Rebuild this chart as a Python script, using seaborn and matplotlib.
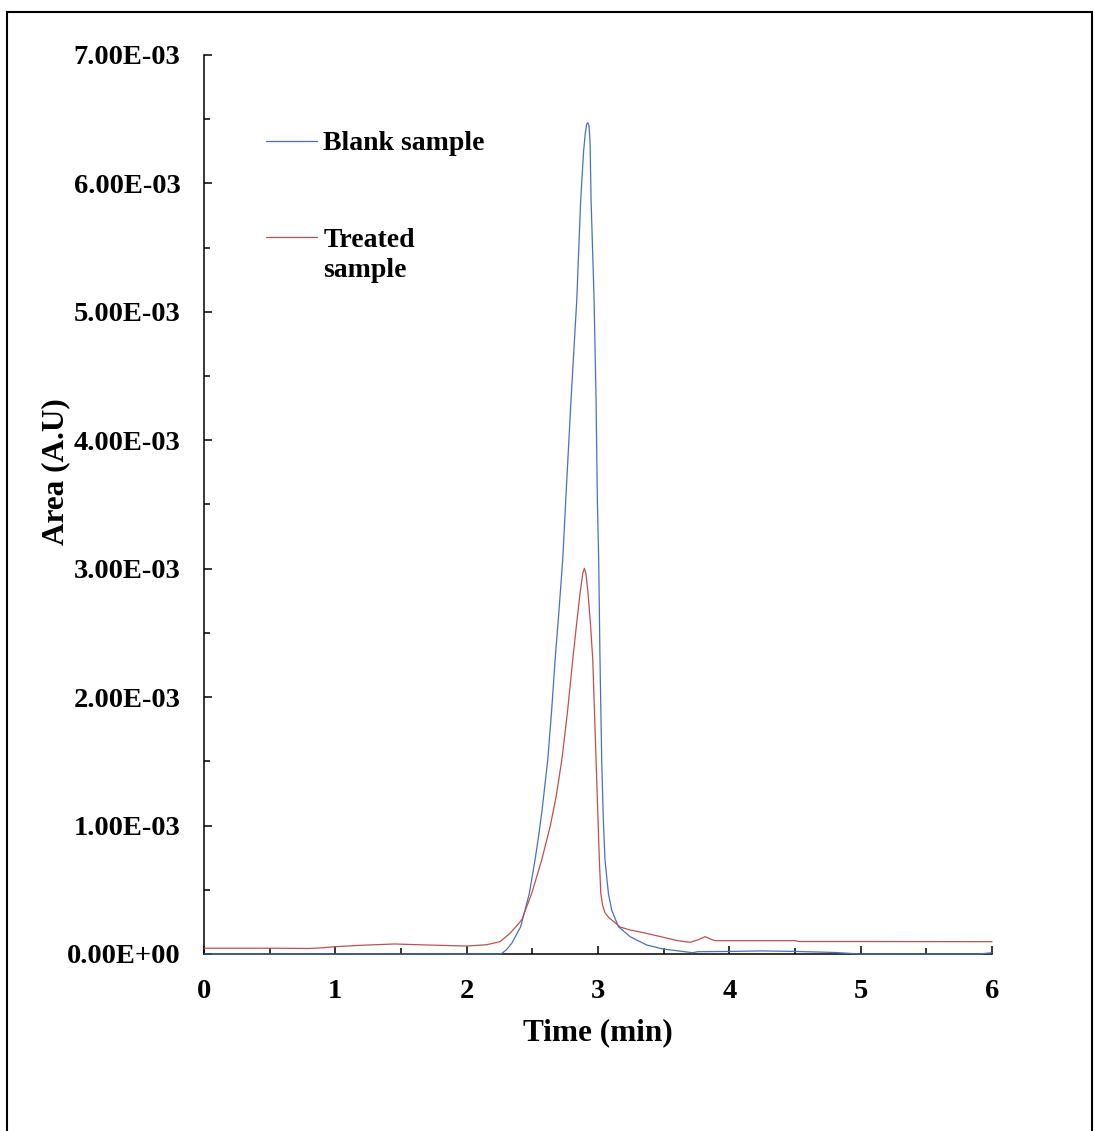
import matplotlib
matplotlib.use("Agg")
import matplotlib.pyplot as plt
import matplotlib.ticker as mticker
import numpy as np
import pandas as pd
import seaborn as sns

# retention time (min) and area (x1e-3 A.U)
blank_time = [
    0.0, 1.0, 2.0, 2.26, 2.30, 2.343, 2.411, 2.477, 2.520, 2.545, 2.574,
    2.617, 2.647, 2.673, 2.703, 2.731, 2.754, 2.794, 2.838, 2.868, 2.890,
    2.903, 2.913, 2.922, 2.931, 2.939, 2.947, 2.970, 2.985, 2.995, 3.005,
    3.015, 3.028, 3.040, 3.053, 3.079, 3.104, 3.155, 3.244, 3.371, 3.495,
    3.72, 3.76, 4.0, 4.25, 4.5, 4.8, 5.0, 5.9, 6.0,
]
blank_area = [
    0.0, 0.0, 0.0, 0.0, 0.03, 0.083, 0.213, 0.472, 0.732, 0.90, 1.121,
    1.51, 1.90, 2.289, 2.678, 3.068, 3.53, 4.31, 5.09, 5.87, 6.25,
    6.39, 6.46, 6.473, 6.45, 6.33, 5.87, 5.09, 4.31, 3.53, 3.068,
    2.289, 1.51, 1.05, 0.732, 0.472, 0.342, 0.213, 0.135, 0.07, 0.039,
    0.01, 0.018, 0.02, 0.024, 0.02, 0.012, 0.0, 0.0, 0.01,
]

treated_time = [
    0.0, 0.5, 0.8, 0.9, 1.0, 1.2, 1.45, 1.7, 2.0, 2.15, 2.254, 2.330,
    2.419, 2.495, 2.571, 2.635, 2.680, 2.724, 2.767, 2.807, 2.840, 2.863,
    2.885, 2.896, 2.908, 2.924, 2.943, 2.960, 2.985, 3.010, 3.021, 3.035,
    3.053, 3.085, 3.117, 3.168, 3.244, 3.35, 3.497, 3.6, 3.70, 3.76,
    3.815, 3.86, 3.89, 4.0, 4.5, 4.53, 5.0, 6.0,
]
treated_area = [
    0.045, 0.045, 0.043, 0.048, 0.057, 0.068, 0.078, 0.070, 0.062, 0.072,
    0.096, 0.161, 0.265, 0.472, 0.732, 0.991, 1.22, 1.51, 1.88, 2.289,
    2.60, 2.808, 2.97, 3.003, 2.96, 2.808, 2.56, 2.289, 1.51, 0.732,
    0.472, 0.38, 0.32, 0.28, 0.255, 0.21, 0.187, 0.165, 0.13, 0.105,
    0.091, 0.11, 0.135, 0.115, 0.104, 0.104, 0.104, 0.097, 0.097, 0.096,
]

series = ["Blank sample", "Treated\nsample"]
colors = ["#4472C4", "#C0504D"]

df = pd.concat([
    pd.DataFrame({"time": blank_time, "area": np.array(blank_area) * 1e-3,
                  "sample": series[0]}),
    pd.DataFrame({"time": treated_time, "area": np.array(treated_area) * 1e-3,
                  "sample": series[1]}),
])

sns.set_style("ticks")
plt.rcParams["font.family"] = ["Liberation Serif", "DejaVu Serif"]
plt.rcParams["font.weight"] = "bold"
for key in ("text.color", "axes.labelcolor", "xtick.color", "ytick.color"):
    plt.rcParams[key] = "black"

fig = plt.figure(figsize=(10.94, 11.31), dpi=100)
ax = fig.add_axes([0.1865, 0.1565, 0.7203, 0.7949])

sns.lineplot(
    data=df, x="time", y="area", hue="sample", hue_order=series,
    palette=dict(zip(series, colors)), estimator=None, sort=False,
    linewidth=0.9, legend=False, ax=ax,
)
for line in ax.lines:
    line.set_zorder(3)
    line.set_clip_on(False)

ax.set_xlim(0, 6)
ax.set_ylim(0, 7e-3)
ax.xaxis.set_major_locator(mticker.MultipleLocator(1))
ax.xaxis.set_minor_locator(mticker.MultipleLocator(0.5))
ax.yaxis.set_major_locator(mticker.MultipleLocator(1e-3))
ax.yaxis.set_minor_locator(mticker.MultipleLocator(0.5e-3))
ax.yaxis.set_major_formatter(mticker.FuncFormatter(lambda v, p: f"{v:.2E}"))

sns.despine(ax=ax)
for s in ("left", "bottom"):
    ax.spines[s].set_linewidth(1.1)
    ax.spines[s].set_color("black")
ax.tick_params(which="major", direction="in", length=6, width=1.1,
               labelsize=20.5, colors="black")
ax.tick_params(which="minor", direction="in", length=4, width=1.1)
ax.tick_params(axis="y", which="major", pad=17)
ax.tick_params(axis="x", which="major", pad=18)
for lab in ax.get_xticklabels() + ax.get_yticklabels():
    lab.set_fontweight("bold")

ax.set_xlabel("Time (min)", fontsize=22.5, fontweight="bold", labelpad=10)
ax.set_ylabel("Area (A.U)", fontsize=22.5, fontweight="bold")
ax.yaxis.set_label_coords(-0.170, 0.537)

# legend drawn by hand to keep the handle on the first text line
lx0, lx1, tx = 0.0783, 0.1438, 0.1514
ax.plot([lx0, lx1], [0.9047, 0.9047], color=colors[0], lw=0.9,
        transform=ax.transAxes)
ax.plot([lx0, lx1], [0.7979, 0.7979], color=colors[1], lw=0.9,
        transform=ax.transAxes)
ax.text(tx, 0.8943, "Blank sample", transform=ax.transAxes, fontsize=20,
        fontweight="bold", va="baseline")
ax.text(tx, 0.7868, "Treated", transform=ax.transAxes, fontsize=20,
        fontweight="bold", va="baseline")
ax.text(tx, 0.7534, "sample", transform=ax.transAxes, fontsize=20,
        fontweight="bold", va="baseline")

# outer frame
fig.patches.append(plt.Rectangle((0.0064, -0.02), 0.9921, 1.0094,
                                 transform=fig.transFigure, fill=False,
                                 edgecolor="black", linewidth=1.5))

fig.savefig("out.png", dpi=100)
